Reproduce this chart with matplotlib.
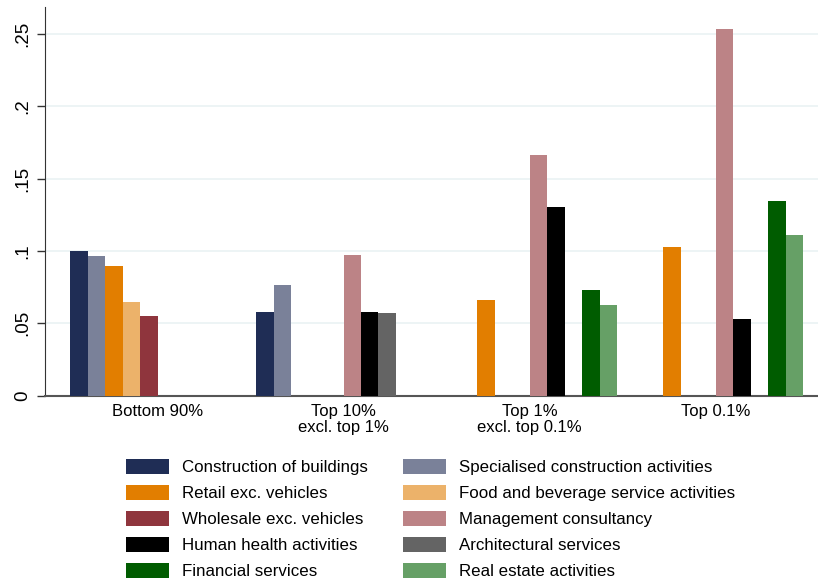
import matplotlib
matplotlib.use("Agg")
import matplotlib.pyplot as plt
import numpy as np

plt.rcParams['font.family'] = ['Liberation Sans', 'DejaVu Sans']

groups = ["Bottom 90%", "Top 10%\nexcl. top 1%", "Top 1%\nexcl. top 0.1%", "Top 0.1%"]
industries = ["Construction of buildings", "Specialised construction activities",
              "Retail exc. vehicles", "Food and beverage service activities",
              "Wholesale exc. vehicles", "Management consultancy",
              "Human health activities", "Architectural services",
              "Financial services", "Real estate activities"]
colors = ["#1f2d55", "#7a8199", "#e27e00", "#ecb26a", "#8f353d",
          "#bc8386", "#000000", "#646464", "#005c00", "#66a066"]

# share per group, nan = not in top 5 of that group
nan = np.nan
vals = {
    "Construction of buildings":            [0.100, 0.058, nan, nan],
    "Specialised construction activities":  [0.0965, 0.0765, nan, nan],
    "Retail exc. vehicles":                 [0.0898, nan, 0.0661, 0.1027],
    "Food and beverage service activities": [0.0649, nan, nan, nan],
    "Wholesale exc. vehicles":              [0.0552, nan, nan, nan],
    "Management consultancy":               [nan, 0.0972, 0.1662, 0.2532],
    "Human health activities":              [nan, 0.0578, 0.1303, 0.0530],
    "Architectural services":               [nan, 0.0571, nan, nan],
    "Financial services":                   [nan, nan, 0.0730, 0.1345],
    "Real estate activities":               [nan, nan, 0.0627, 0.1110],
}

W, H = 818, 581
fig = plt.figure(figsize=(W / 100, H / 100), dpi=100, facecolor='white')
ax = fig.add_axes([45 / W, (H - 395.7) / H, (W - 45) / W, (395.7 - 7) / H])

gstep = 186 / 17.5
for j, name in enumerate(industries):
    x = np.arange(len(groups)) * gstep + j
    y = np.array(vals[name])
    ax.bar(x, np.nan_to_num(y), width=1.0, align='edge', color=colors[j],
           label=name, linewidth=0, zorder=3)

ax.set_xlim((45 - 70) / 17.5, (W - 70) / 17.5)
ax.set_ylim(0, (395.7 - 7) / 1448)
ax.set_yticks([0, 0.05, 0.1, 0.15, 0.2, 0.25])
ax.set_yticklabels(["0", ".05", ".1", ".15", ".2", ".25"], rotation=90, va='center')
ax.set_xticks(np.arange(len(groups)) * gstep + 5)
ax.set_xticklabels(groups, fontsize=12, linespacing=1.1)
ax.tick_params(axis='x', length=0, pad=6)
ax.tick_params(axis='y', length=6, width=1, labelsize=13.5, pad=4, color='#333333')
ax.grid(axis='y', color='#eaf2f3', linewidth=1.2, zorder=0)
ax.set_axisbelow(True)
for s in ['top', 'right']:
    ax.spines[s].set_visible(False)
ax.spines['left'].set_color('#333333')
ax.spines['bottom'].set_color('#555555')
ax.spines['bottom'].set_linewidth(1.5)

# legend is read row by row, matplotlib fills column by column
handles, labels = ax.get_legend_handles_labels()
order = [0, 2, 4, 6, 8, 1, 3, 5, 7, 9]
fig.legend([handles[i] for i in order], [labels[i] for i in order], ncol=2,
           loc='upper left', bbox_to_anchor=(126 / W, (H - 458.5) / H),
           frameon=False, fontsize=12.2,
           handlelength=2.55, handleheight=1.03, handletextpad=0.77,
           labelspacing=0.56, columnspacing=2.05, borderpad=0, borderaxespad=0)

fig.savefig("out.png", dpi=100, facecolor='white')
